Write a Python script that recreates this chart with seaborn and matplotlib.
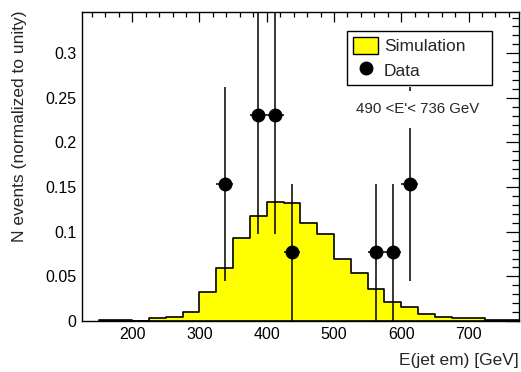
import numpy as np
import pandas as pd
import matplotlib
matplotlib.use("Agg")
import matplotlib.pyplot as plt
import seaborn as sns
from matplotlib.patches import Patch
from matplotlib.lines import Line2D
from matplotlib.ticker import MultipleLocator

# Simulated jet-energy spectrum, 25 GeV bins, normalised to unit area
bin_edges = [150, 175, 200, 225, 250, 275, 300, 325, 350, 375, 400, 425, 450,
             475, 500, 525, 550, 575, 600, 625, 650, 675, 700, 725, 750, 775]
sim_values = [0.0016, 0.0016, 0.0, 0.003, 0.0049, 0.0105, 0.032, 0.059, 0.0927,
              0.118, 0.1334, 0.132, 0.110, 0.097, 0.0695, 0.0534, 0.0357,
              0.0215, 0.0155, 0.0083, 0.0045, 0.0035, 0.003, 0.0007, 0.0007]

# Observed events (13 in total), per-bin counts at the bin centres
data_x = [337.5, 387.5, 412.5, 437.5, 562.5, 587.5, 612.5]
data_counts = [2, 3, 3, 1, 1, 1, 2]
n_total = 13

y_ticks = [0, 0.05, 0.1, 0.15, 0.2, 0.25, 0.3]
y_tick_labels = ["0", "0.05", "0.1", "0.15", "0.2", "0.25", "0.3"]
x_ticks = [200, 300, 400, 500, 600, 700]
x_tick_labels = ["200", "300", "400", "500", "600", "700"]

sns.set_style("white")
plt.rcParams["font.family"] = ["Liberation Sans", "DejaVu Sans"]

fig = plt.figure(figsize=(5.21, 3.72), dpi=100)
ax = fig.add_axes([0.1568, 0.1371, 0.8394, 0.8306])

edges = [float(e) for e in bin_edges]
sim = pd.DataFrame({
    "energy": [0.5 * (a + b) for a, b in zip(edges[:-1], edges[1:])],
    "weight": sim_values,
})
half_width = 0.5 * (edges[1] - edges[0])

sns.histplot(data=sim, x="energy", weights="weight", bins=edges,
             element="step", fill=True, facecolor="#ffff00",
             edgecolor="black", linewidth=1.2, alpha=1, ax=ax, zorder=2)

counts = np.array(data_counts, dtype=float)
data_y = counts / n_total
data_err = np.sqrt(counts) / n_total
ax.errorbar(data_x, data_y, yerr=data_err, xerr=half_width, fmt="o",
            color="black", markersize=9, elinewidth=1.1, capsize=0, zorder=3)

ax.set_xlim(edges[0] - 25, edges[-1])
ax.set_ylim(0, max(data_y) * 1.5)

ax.set_xticks(x_ticks, labels=x_tick_labels)
ax.set_yticks(y_ticks, labels=y_tick_labels)
ax.xaxis.set_minor_locator(MultipleLocator(20))
ax.yaxis.set_minor_locator(MultipleLocator(0.01))
ax.tick_params(axis="both", which="both", direction="in", top=True,
               right=True, width=0.9, colors="black", labelsize=11.5)
ax.tick_params(axis="y", which="major", length=9.5, pad=4)
ax.tick_params(axis="y", which="minor", length=5)
ax.tick_params(axis="x", which="major", length=7, pad=4)
ax.tick_params(axis="x", which="minor", length=3.6)
for spine in ax.spines.values():
    spine.set_color("black")
    spine.set_linewidth(1.0)

ax.set_xlabel("E(jet em) [GeV]", fontsize=12.5, loc="right")
ax.xaxis.set_label_coords(1.0, -0.105)
ax.set_ylabel("N events (normalized to unity)", fontsize=12.5, loc="top")
ax.yaxis.set_label_coords(-0.126, 1.006)

# Energy-window caption on an opaque white box
ax.text(624, 0.237, "490 <E'< 736 GeV", fontsize=10.8, ha="center",
        va="center", zorder=4,
        bbox=dict(boxstyle="square,pad=0.75", facecolor="white",
                  edgecolor="none"))

handles = [Patch(facecolor="#ffff00", edgecolor="black", linewidth=1.0),
           Line2D([], [], marker="o", color="black", linestyle="none",
                  markersize=9)]
leg = ax.legend(handles, ["Simulation", "Data"], loc="upper left",
                bbox_to_anchor=(0.6074, 0.7615, 0.3316, 0.177), mode="expand",
                borderaxespad=0, fontsize=12.5, frameon=True, fancybox=False,
                framealpha=1, edgecolor="black", borderpad=0.35,
                handlelength=1.4, handleheight=1.1, handletextpad=0.35,
                labelspacing=0.4)
leg.get_frame().set_linewidth(1.0)
leg.set_zorder(5)

fig.savefig("out.png", dpi=100)
